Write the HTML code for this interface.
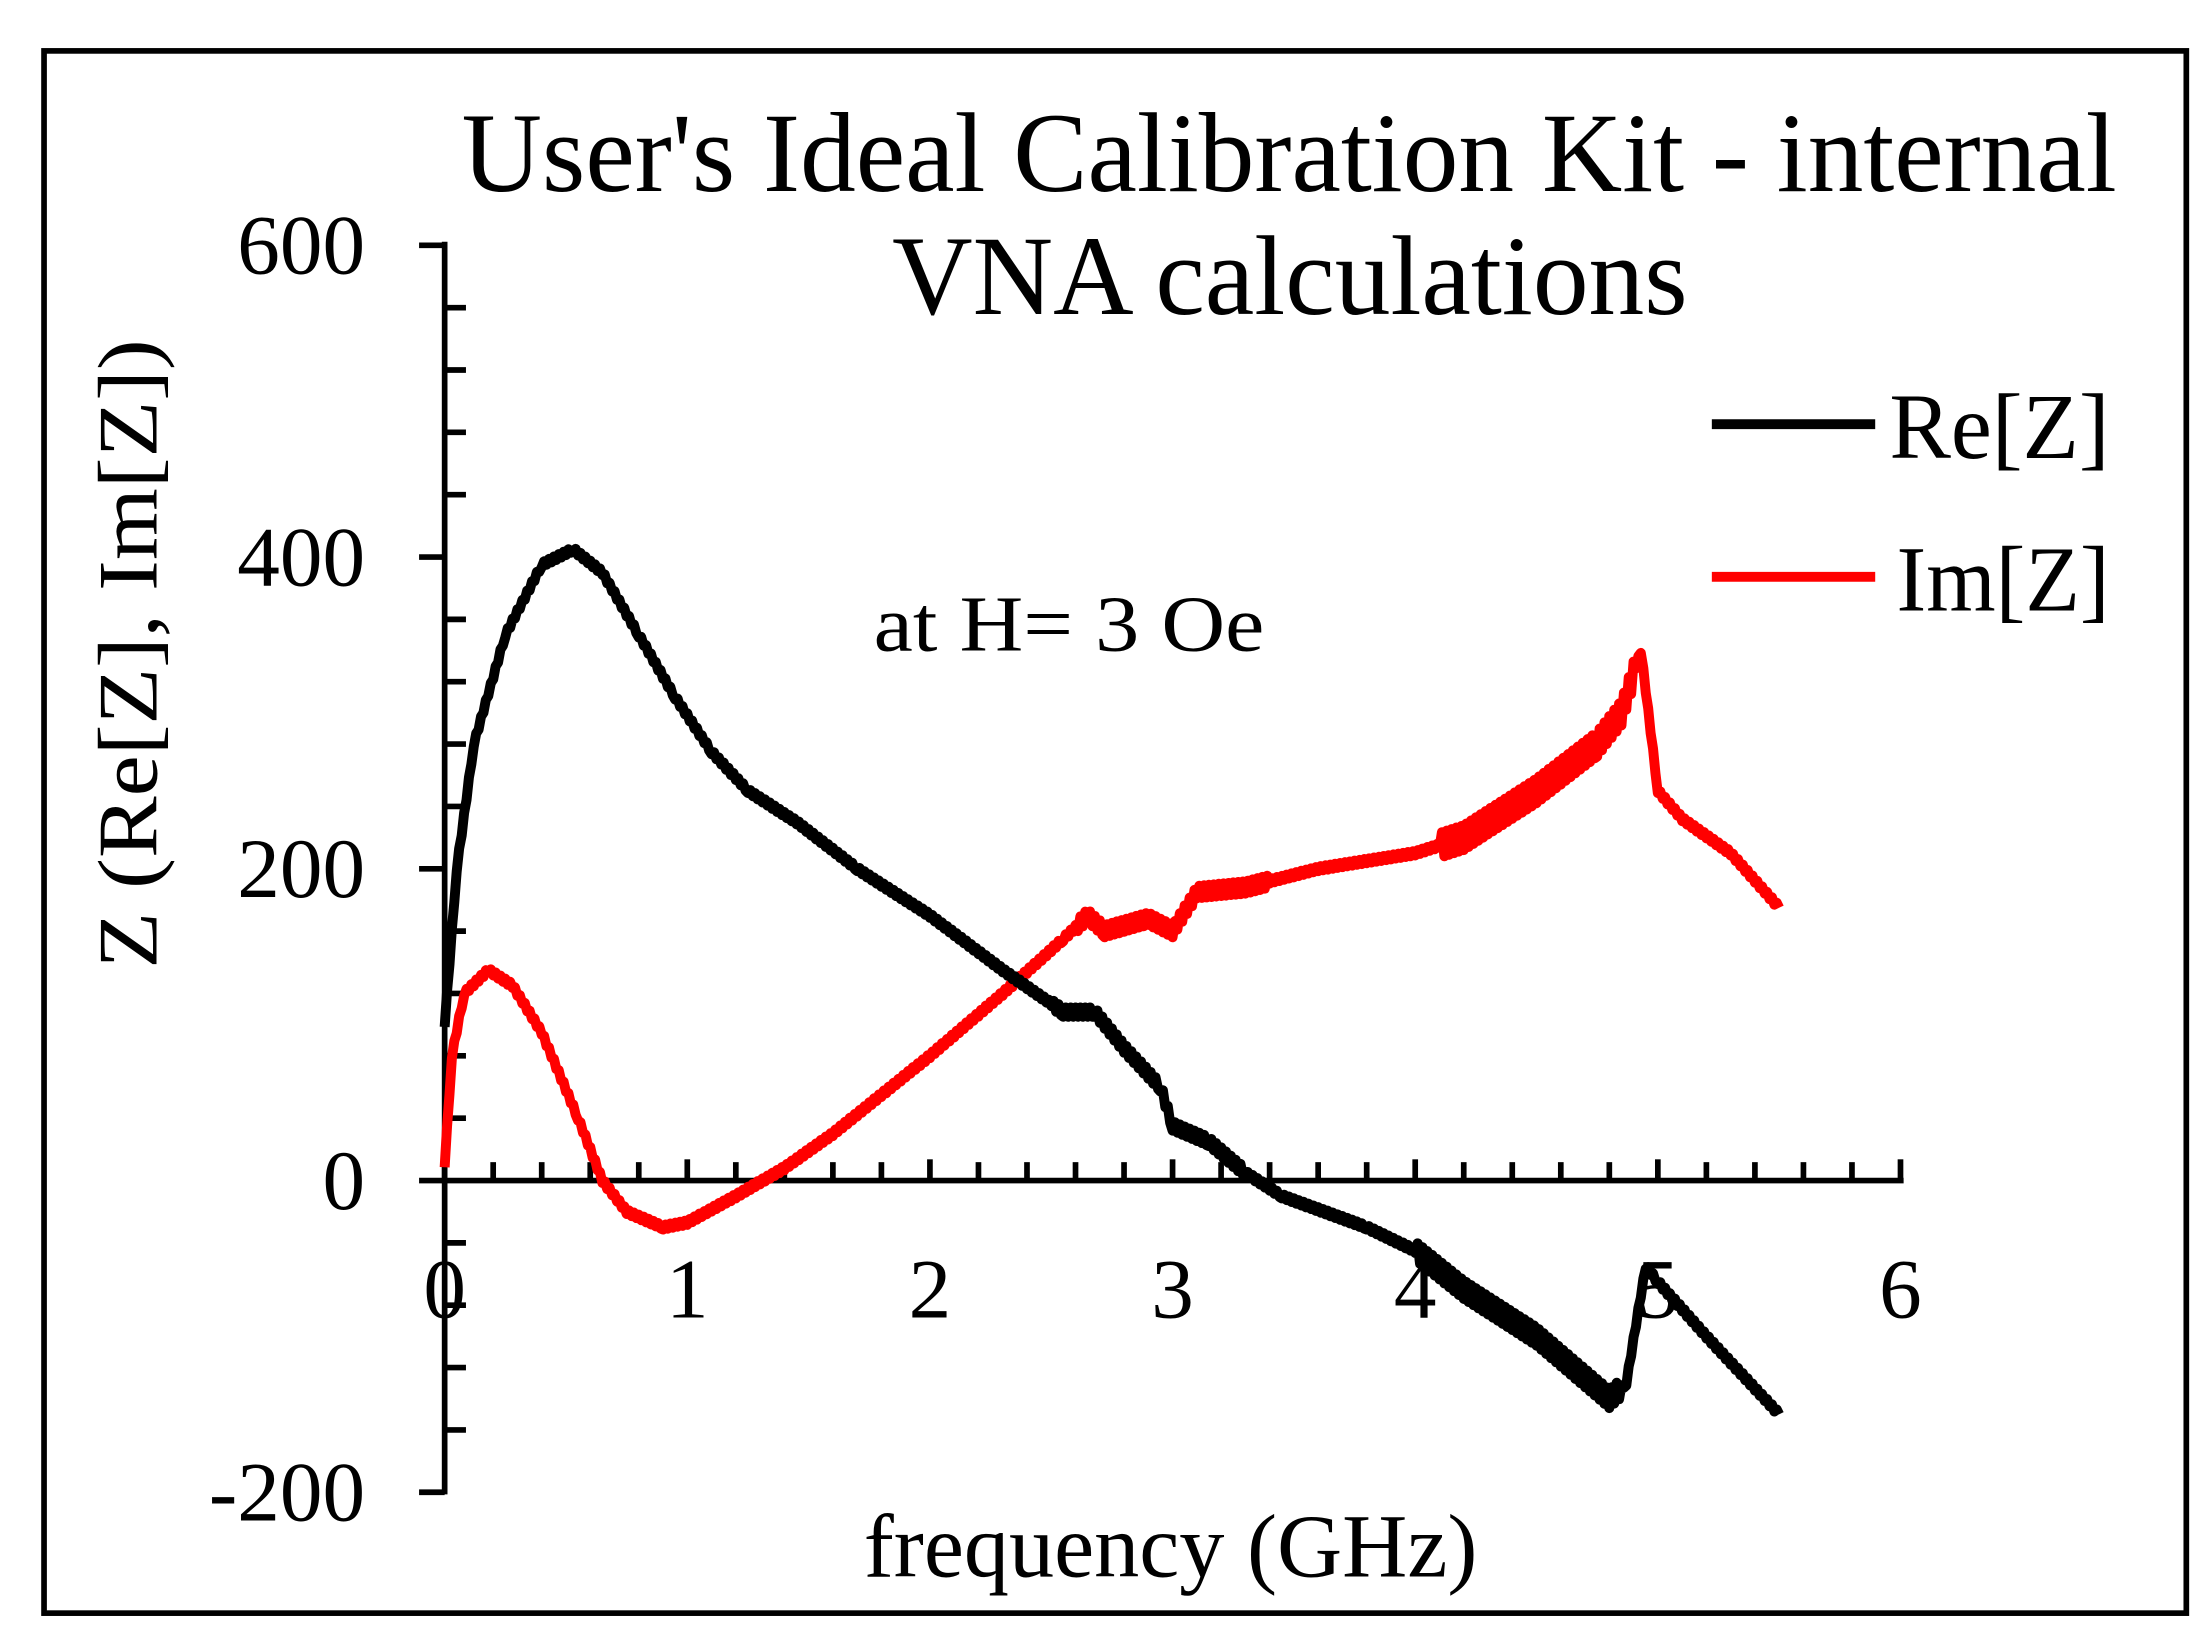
<!DOCTYPE html>
<html><head><meta charset="utf-8"><style>
html,body{margin:0;padding:0;background:#fff;}
svg{display:block;}
text{font-family:"Liberation Serif",serif;fill:#000;}
</style></head><body>
<svg id="s" width="2192" height="1640" viewBox="0 0 1543 1160" preserveAspectRatio="none" xmlns="http://www.w3.org/2000/svg">
<rect x="0" y="0" width="1543" height="1160" fill="#fff"/>
<rect x="31" y="36" width="1508" height="1105" fill="none" stroke="#000" stroke-width="4"/>
<g id="axes" stroke="#000" stroke-width="4"></g>
<g id="labels"></g>
<text x="325" y="135" font-size="80" textLength="1165" lengthAdjust="spacingAndGlyphs">User's Ideal Calibration Kit - internal</text>
<text x="628" y="222" font-size="80" textLength="560" lengthAdjust="spacingAndGlyphs">VNA calculations</text>
<text transform="translate(110,685) rotate(-90)" font-size="60" textLength="445" lengthAdjust="spacingAndGlyphs">Z (Re[Z], Im[Z])</text>
<text x="608" y="1115" font-size="64" textLength="432" lengthAdjust="spacingAndGlyphs">frequency (GHz)</text>
<text x="615" y="460" font-size="56" textLength="275" lengthAdjust="spacingAndGlyphs">at H= 3 Oe</text>
<line x1="1205" y1="300" x2="1320" y2="300" stroke="#000" stroke-width="7"/>
<text x="1330" y="324" font-size="66" textLength="155" lengthAdjust="spacingAndGlyphs">Re[Z]</text>
<line x1="1205" y1="408" x2="1320" y2="408" stroke="#f00" stroke-width="7"/>
<text x="1335" y="432" font-size="66" textLength="150" lengthAdjust="spacingAndGlyphs">Im[Z]</text>
<polyline id="im" fill="none" stroke="#f00" stroke-width="7" stroke-linejoin="round"/>
<polyline id="re" fill="none" stroke="#000" stroke-width="7" stroke-linejoin="round"/>
</svg>
<script>
var X=f=>313+170.8*f, Y=v=>835-1.1025*v;
var ax=document.getElementById('axes'),lb=document.getElementById('labels');
function L(x1,y1,x2,y2){ax.innerHTML+='<line x1="'+x1+'" y1="'+y1+'" x2="'+x2+'" y2="'+y2+'"/>';}
function T(x,y,s,a){lb.innerHTML+='<text x="'+x+'" y="'+y+'" font-size="60" text-anchor="'+a+'">'+s+'</text>';}
L(313,171,313,1057);L(311,835,1340,835);
for(var v=-200;v<=600;v+=40){var y=Y(v);if(v%200==0){L(295,y,313,y);}else L(313,y,328,y);}
for(var v=-200;v<=600;v+=200)T(257,Y(v)+20,v,'end');
for(var i=0;i<=30;i++){var x=X(i*0.2);if(i%5==0)L(x,820,x,835);else L(x,822,x,835);}
for(var f=0;f<=6;f++)T(X(f),932,f,'middle');
function build(pts,noise){var out=[];for(var k=0;k<pts.length-1;k++){var a=pts[k],b=pts[k+1];var n=Math.max(2,Math.round((b[0]-a[0])/0.01));for(var j=0;j<n;j++){var f=a[0]+(b[0]-a[0])*j/n,v=a[1]+(b[1]-a[1])*j/n;var amp=noise(f);v+=amp*((j%2)?1:-1);out.push(X(f).toFixed(1)+','+Y(v).toFixed(1));}}var l=pts[pts.length-1];out.push(X(l[0])+','+Y(l[1]));return out.join(' ');}
var re=[[0,100],[0.05,200],[0.12,280],[0.25,350],[0.4,395],[0.53,405],[0.65,390],[0.8,350],[0.95,310],[1.1,275],[1.25,250],[1.45,230],[1.7,200],[2.0,170],[2.3,135],[2.55,108],[2.68,108],[2.8,85],[2.95,60],[3.0,35],[3.15,25],[3.3,5],[3.45,-10],[3.8,-30],[4.0,-45],[4.2,-70],[4.5,-100],[4.8,-140],[4.87,-130],[4.95,-55],[5.0,-65],[5.2,-100],[5.5,-150]];
var im=[[0,10],[0.03,80],[0.08,120],[0.18,135],[0.28,125],[0.4,95],[0.55,40],[0.65,0],[0.75,-20],[0.9,-30],[1.0,-27],[1.2,-10],[1.4,8],[1.6,30],[1.8,55],[2.0,80],[2.3,120],[2.55,155],[2.65,170],[2.72,160],[2.9,168],[3.0,160],[3.1,185],[3.3,188],[3.6,200],[4.0,210],[4.2,220],[4.5,250],[4.75,280],[4.85,300],[4.93,340],[5.0,250],[5.1,232],[5.3,210],[5.5,175]];
document.getElementById('re').setAttribute('points',build(re,f=>(f>4.0&&f<4.85)?6:(f>2.5&&f<3.3?3:1.5)));
document.getElementById('im').setAttribute('points',build(im,f=>(f>4.1&&f<4.9)?8:(f>2.6&&f<3.4?4:1.5)));
</script>
</body></html>
